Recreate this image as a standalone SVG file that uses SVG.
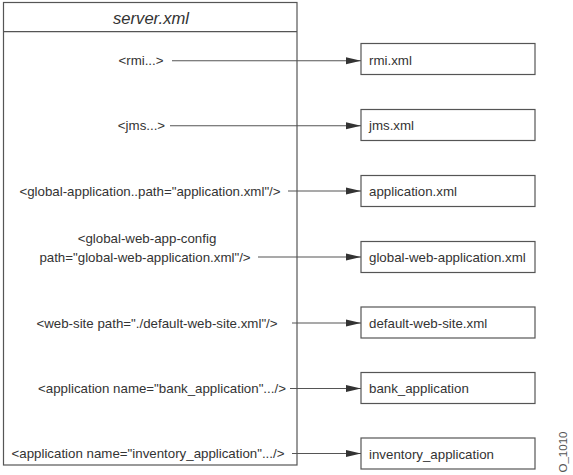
<svg xmlns="http://www.w3.org/2000/svg" width="573" height="475" viewBox="0 0 573 475">
<defs>
<marker id="arr" viewBox="0 0 15 8" refX="15" refY="4" markerWidth="15" markerHeight="8" markerUnits="userSpaceOnUse" orient="auto">
<path d="M0,0.5 L15,4 L0,7.5 Z" fill="#333"/>
</marker>
</defs>
<style>
.box{fill:#fff;stroke:#555;stroke-width:1.2}
.t{font-family:"Liberation Sans",Arial,sans-serif;font-size:13.3px;fill:#333}
.title{font-size:16.6px;font-style:italic}
.id{font-size:11.5px;fill:#555}
.c{stroke:#555;stroke-width:1.1;fill:none;marker-end:url(#arr)}
</style>
<rect width="573" height="475" fill="#fff"/>
<g id="server">
<rect class="box" x="3.5" y="2.5" width="293.5" height="462.5"/>
<line x1="3.5" y1="31.7" x2="297" y2="31.7" stroke="#555" stroke-width="1.2"/>
<text class="t title" x="151" y="24" text-anchor="middle">server.xml</text>
<text class="t" x="141" y="65" text-anchor="middle">&lt;rmi...&gt;</text>
<text class="t" x="141.5" y="130" text-anchor="middle">&lt;jms...&gt;</text>
<text class="t" x="150" y="195.5" text-anchor="middle">&lt;global-application..path="application.xml"/&gt;</text>
<text class="t" x="147" y="243" text-anchor="middle">&lt;global-web-app-config</text>
<text class="t" x="145" y="261.5" text-anchor="middle">path="global-web-application.xml"/&gt;</text>
<text class="t" x="157" y="327.5" text-anchor="middle">&lt;web-site path="./default-web-site.xml"/&gt;</text>
<text class="t" x="162" y="393" text-anchor="middle">&lt;application name="bank_application".../&gt;</text>
<text class="t" x="148" y="458" text-anchor="middle">&lt;application name="inventory_application".../&gt;</text>
</g>
<g id="rmi"><rect class="box" x="361" y="43.5" width="174" height="31"/><text class="t" x="369" y="64.5">rmi.xml</text></g>
<g id="jms"><rect class="box" x="361" y="109.5" width="174" height="31"/><text class="t" x="369" y="130">jms.xml</text></g>
<g id="application"><rect class="box" x="361" y="175.5" width="174" height="31"/><text class="t" x="369" y="196">application.xml</text></g>
<g id="globalweb"><rect class="box" x="361" y="241.5" width="174" height="31"/><text class="t" x="369" y="262">global-web-application.xml</text></g>
<g id="defaultweb"><rect class="box" x="361" y="307" width="174" height="31"/><text class="t" x="369" y="327.5">default-web-site.xml</text></g>
<g id="bank"><rect class="box" x="361" y="372.5" width="174" height="31"/><text class="t" x="369" y="393">bank_application</text></g>
<g id="inventory"><rect class="box" x="361" y="438" width="174" height="31"/><text class="t" x="369" y="458.5">inventory_application</text></g>
<g id="connectors">
<line class="c" x1="172" y1="60.7" x2="361" y2="60.7"/>
<line class="c" x1="170" y1="125.7" x2="361" y2="125.7"/>
<line class="c" x1="288" y1="191" x2="361" y2="191"/>
<line class="c" x1="258" y1="257" x2="361" y2="257"/>
<line class="c" x1="292" y1="323" x2="361" y2="323"/>
<line class="c" x1="290" y1="388.5" x2="361" y2="388.5"/>
<line class="c" x1="292" y1="453.5" x2="361" y2="453.5"/>
</g>
<text class="t id" transform="translate(567,452) rotate(-90)" text-anchor="middle">O_1010</text>
</svg>
